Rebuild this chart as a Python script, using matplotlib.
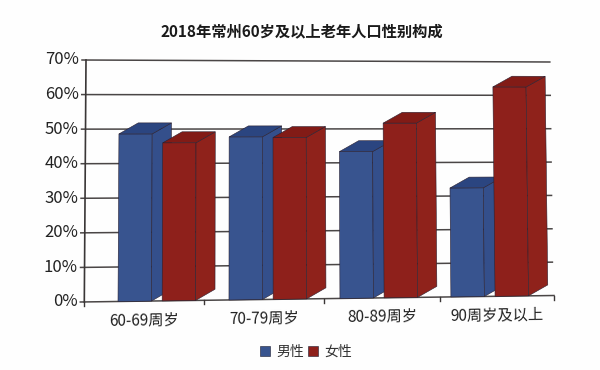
#!/usr/bin/env python

import matplotlib
matplotlib.use("Agg")
import matplotlib.pyplot as plt
from matplotlib.patches import Patch, Polygon

plt.rcParams['font.family'] = ['Noto Sans CJK SC', 'DejaVu Sans']

title = "2018年常州60岁及以上老年人口性别构成"
categories = ["60-69周岁", "70-79周岁", "80-89周岁", "90周岁及以上"]
male = [48.6, 47.7, 43.3, 32.4]
female = [46.0, 47.5, 51.7, 62.5]
y_ticks = [0, 10, 20, 30, 40, 50, 60, 70]
cat_edges = [0, 1.02, 2.04, 3.03, 4]

W, H = 600, 370
# the page was scanned slightly crooked, axis corners in pixels
LEFT, RIGHT, BOTTOM, TOP = 84.3, 554.0, 302.0, 60.0
XMAX, YMAX = 4.0, 70.0

BAR_W = 0.285
FIRST = 0.287
STEP = 0.945
FEMALE_OFF = 0.376
DEPTH_X = 0.165
DEPTH_Y = 3.2


def warp(x, v):
    t = x / XMAX
    u = v / YMAX
    sx = (RIGHT - LEFT) / XMAX
    sy = (BOTTOM - TOP) / YMAX
    # shift in data units, grows towards the corners
    xs = (u * (1.7 * (1 - t) - 3.0 * t)) / sx
    ys = ((1 - u) * 6.5 * t - u * 2.0 * t) / sy
    return x + xs, v + ys


def box(ax, x, v, front, side, top):
    corners = [
        ([(x, 0), (x + BAR_W, 0), (x + BAR_W, v), (x, v)], front),
        ([(x + BAR_W, 0), (x + BAR_W + DEPTH_X, DEPTH_Y),
          (x + BAR_W + DEPTH_X, v + DEPTH_Y), (x + BAR_W, v)], side),
        ([(x, v), (x + BAR_W, v), (x + BAR_W + DEPTH_X, v + DEPTH_Y),
          (x + DEPTH_X, v + DEPTH_Y)], top),
    ]
    for pts, col in corners:
        ax.add_patch(Polygon([warp(*p) for p in pts], closed=True, facecolor=col,
                             edgecolor="#2a2030", linewidth=0.4, zorder=3))


fig = plt.figure(figsize=(W / 100, H / 100), dpi=100, facecolor="#fefefe")
ax = fig.add_axes([LEFT / W, 1 - BOTTOM / H, (RIGHT - LEFT) / W, (BOTTOM - TOP) / H])
ax.set_xlim(0, XMAX)
ax.set_ylim(0, YMAX)
ax.axis("off")

tick_len = 4.0 / ((RIGHT - LEFT) / XMAX)
for v in y_ticks:
    x0, y0 = warp(0, v)
    x1, y1 = warp(XMAX, v)
    ax.plot([x0 - tick_len, x1 - (0.01 if v else 0)], [y0, y1], color="#4a4646",
            linewidth=1.1, clip_on=False, zorder=1)
    ax.text(x0 - 1.7 * tick_len, y0, "%d%%" % v, ha="right", va="center",
            fontsize=12, color="#222222", clip_on=False)

# y axis
xa, ya = zip(warp(0, 0), warp(0, YMAX))
ax.plot(xa, ya, color="#3a3636", linewidth=1.2, clip_on=False, zorder=2)

# ticks under the x axis
tick_v = 4.0 / ((BOTTOM - TOP) / YMAX)
for e in cat_edges:
    tx, ty = warp(e, 0)
    ax.plot([tx, tx], [ty, ty - tick_v], color="#3a3636", linewidth=1.0,
            clip_on=False, zorder=2)

for i, name in enumerate(categories):
    x = FIRST + STEP * i
    box(ax, x, male[i], "#38548f", "#344f8b", "#2b4580")
    box(ax, x + FEMALE_OFF, female[i], "#8e201b", "#8f221b", "#821b16")
    lx, ly = warp((cat_edges[i] + cat_edges[i + 1]) / 2, -5.6)
    ax.text(lx, ly, name, ha="center", va="center", fontsize=11, color="#222222",
            rotation=0.8, clip_on=False)

fig.text(302 / W, 1 - 31 / H, title, ha="center", va="center", fontsize=11,
         fontweight="bold", color="#1a1a1a")

handles = [Patch(facecolor="#38548f", edgecolor="#1c1c30", linewidth=0.4),
           Patch(facecolor="#8e201b", edgecolor="#1c1c30", linewidth=0.4)]
fig.legend(handles, ["男性", "女性"], ncol=2, loc="center", frameon=False,
           bbox_to_anchor=(306 / W, 1 - 352 / H), fontsize=10, handlelength=0.72,
           handleheight=0.72, handletextpad=0.45, columnspacing=0.25,
           labelcolor="#333333")

fig.savefig("out.png", dpi=100, facecolor=fig.get_facecolor())
